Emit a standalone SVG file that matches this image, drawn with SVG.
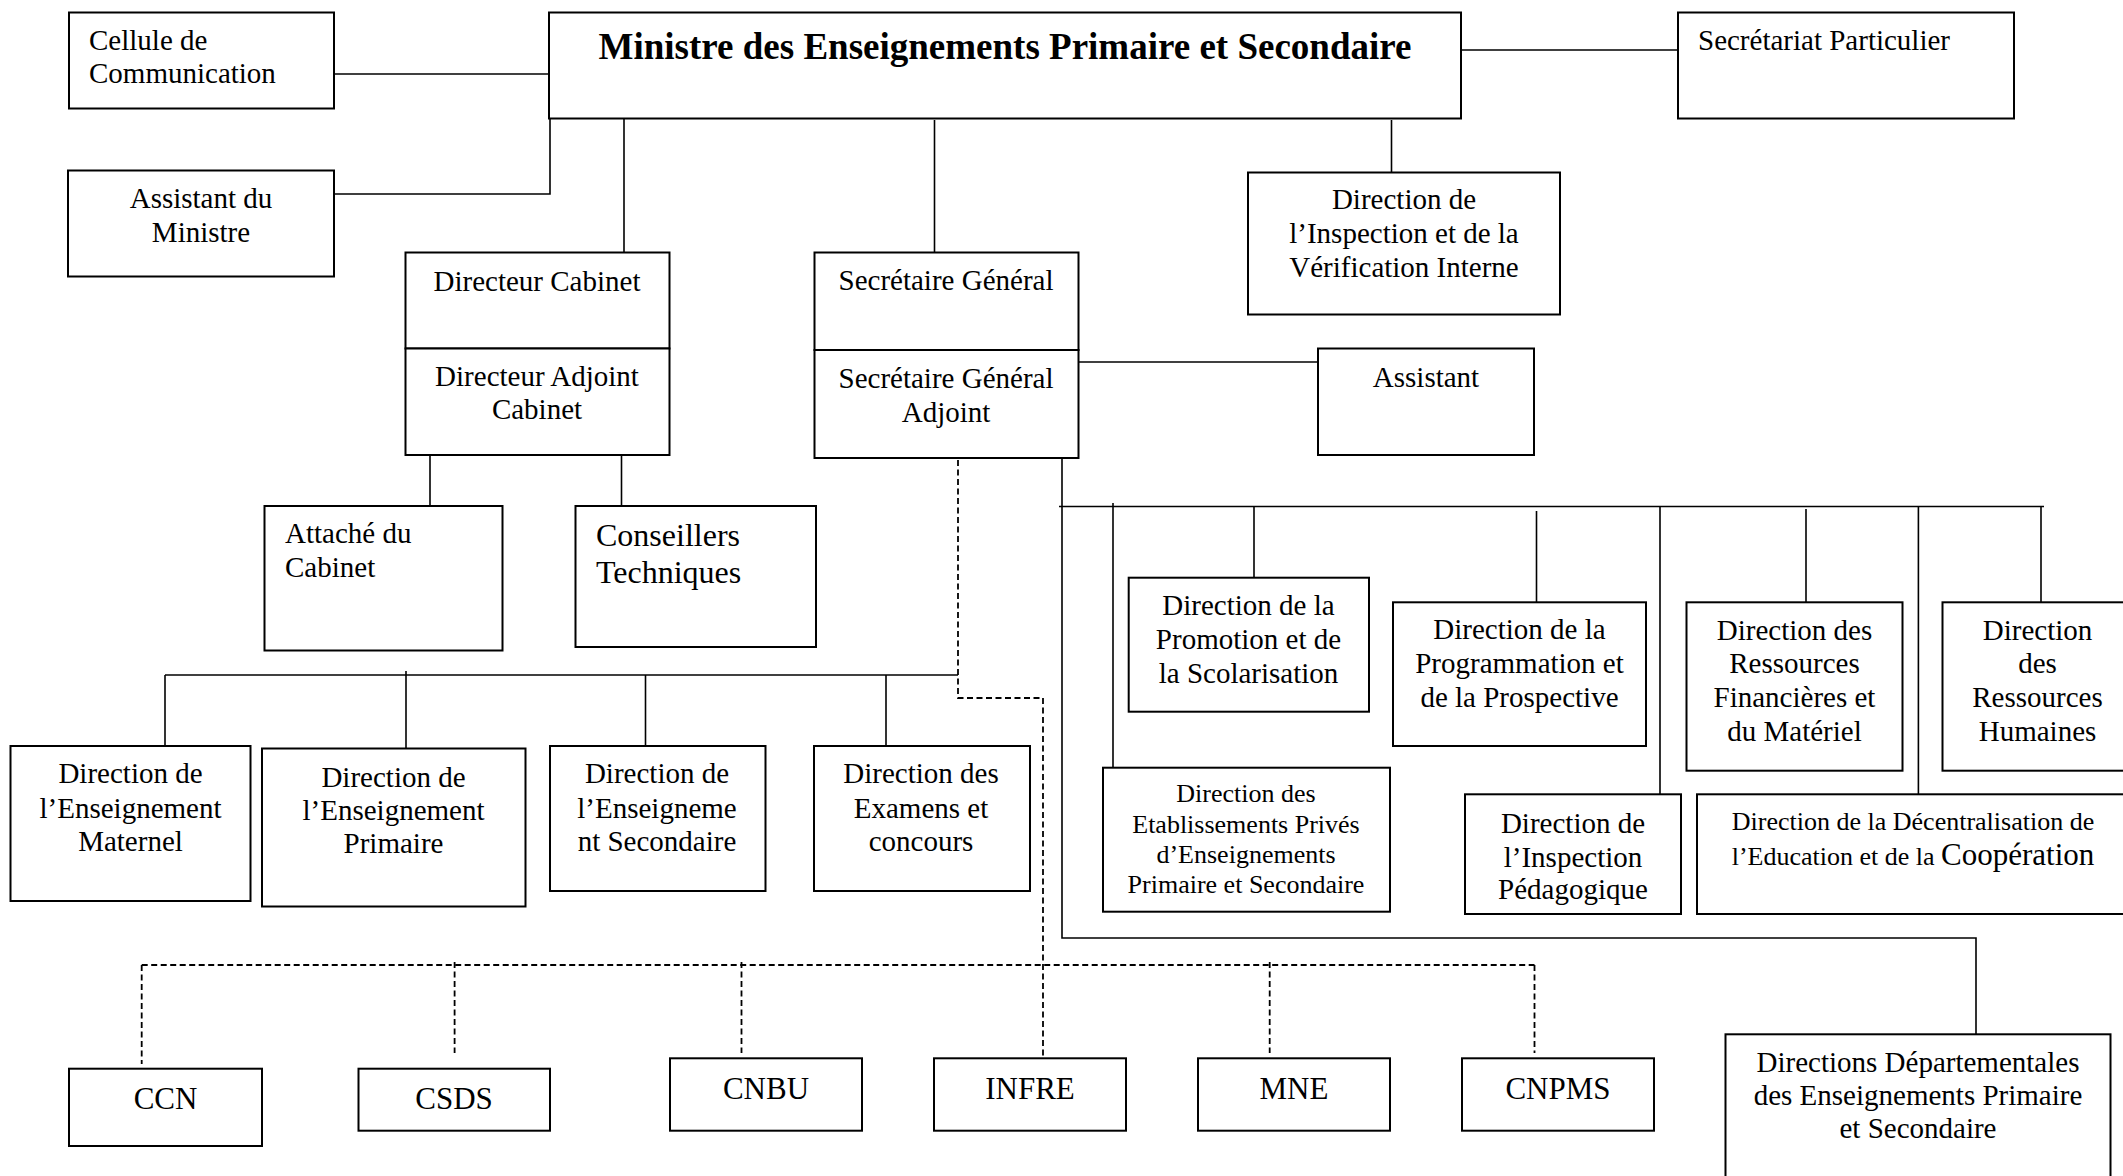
<svg xmlns="http://www.w3.org/2000/svg" width="2123" height="1176" viewBox="0 0 2123 1176">
<style>
  rect { fill: #fff; stroke: #000; stroke-width: 2; }
  text { font-family: "Liberation Serif", "Times New Roman", serif; font-size: 29px; fill: #000; }
  .c { text-anchor: middle; }
  .title { font-size: 37px; font-weight: bold; }
  .big { font-size: 32px; }
  .sm { font-size: 26px; }
  .ab { font-size: 31px; }
  .solid { fill: none; stroke: #000; stroke-width: 1.6; }
  .dash { fill: none; stroke: #000; stroke-width: 1.8; stroke-dasharray: 6 3.5; }
</style>
<rect x="0" y="0" width="2123" height="1176" style="fill:#fff;stroke:none"/>
<g id="connectors">
  <path class="solid" d="M334 74 H549"/>
  <path class="solid" d="M550 118 V194 H334"/>
  <path class="solid" d="M1461 50 H1678"/>
  <path class="solid" d="M624 118 V252"/>
  <path class="solid" d="M934.5 120 V252"/>
  <path class="solid" d="M1391.5 120 V172"/>
  <path class="solid" d="M1078 362 H1318"/>
  <path class="solid" d="M430 455 V506"/>
  <path class="solid" d="M621.5 455 V506"/>
  <path class="solid" d="M165 675 H958"/>
  <path class="solid" d="M165 675 V746"/>
  <path class="solid" d="M406 671 V748"/>
  <path class="solid" d="M645.5 675 V746"/>
  <path class="solid" d="M886 675 V746"/>
  <path class="solid" d="M1062 458 V938 H1976 V1034"/>
  <path class="solid" d="M1059 506.5 H2044"/>
  <path class="solid" d="M1113 503 V768"/>
  <path class="solid" d="M1254 506 V577"/>
  <path class="solid" d="M1536.5 511 V602"/>
  <path class="solid" d="M1660 506 V794"/>
  <path class="solid" d="M1806 509 V602"/>
  <path class="solid" d="M1918.4 506 V794"/>
  <path class="solid" d="M2041 506 V602"/>
  <path class="dash" d="M958 460 V698 H1043 V1056"/>
  <path class="dash" d="M141.7 965 H1534.5"/>
  <path class="dash" d="M141.7 965 V1064"/>
  <path class="dash" d="M454.6 962 V1053"/>
  <path class="dash" d="M741.5 962 V1053"/>
  <path class="dash" d="M1269.7 962 V1053"/>
  <path class="dash" d="M1534.5 965 V1053"/>
</g>
<g id="cellule">
  <rect x="69" y="12.5" width="265" height="96"/>
  <text x="89" y="50">Cellule de</text>
  <text x="89" y="83">Communication</text>
</g>
<g id="ministre">
  <rect x="549" y="12.5" width="912" height="106"/>
  <text class="c title" x="1005" y="59">Ministre des Enseignements Primaire et Secondaire</text>
</g>
<g id="secretariat">
  <rect x="1678" y="12.5" width="336" height="106"/>
  <text x="1698" y="50">Secrétariat Particulier</text>
</g>
<g id="assistant-ministre">
  <rect x="68" y="170.5" width="266" height="106"/>
  <text class="c" x="201" y="208">Assistant du</text>
  <text class="c" x="201" y="242">Ministre</text>
</g>
<g id="divi">
  <rect x="1248" y="172.5" width="312" height="142"/>
  <text class="c" x="1404" y="209">Direction de</text>
  <text class="c" x="1404" y="243">l’Inspection et de la</text>
  <text class="c" x="1404" y="277">Vérification Interne</text>
</g>
<g id="directeur-cabinet">
  <rect x="405.5" y="252.5" width="264" height="96"/>
  <text class="c" x="537" y="291">Directeur Cabinet</text>
</g>
<g id="directeur-adjoint">
  <rect x="405.5" y="348.5" width="264" height="106.5"/>
  <text class="c" x="537" y="386">Directeur Adjoint</text>
  <text class="c" x="537" y="419">Cabinet</text>
</g>
<g id="sg">
  <rect x="814.5" y="252.5" width="264" height="97.5"/>
  <text class="c" x="946" y="290">Secrétaire Général</text>
</g>
<g id="sga">
  <rect x="814.5" y="350" width="264" height="108"/>
  <text class="c" x="946" y="388">Secrétaire Général</text>
  <text class="c" x="946" y="422">Adjoint</text>
</g>
<g id="assistant">
  <rect x="1318" y="348.5" width="216" height="106.5"/>
  <text class="c" x="1426" y="387">Assistant</text>
</g>
<g id="attache">
  <rect x="264.5" y="506" width="238" height="144.5"/>
  <text x="285" y="543">Attaché du</text>
  <text x="285" y="577">Cabinet</text>
</g>
<g id="conseillers">
  <rect x="575.5" y="506" width="240.5" height="141"/>
  <text class="big" x="596" y="546">Conseillers</text>
  <text class="big" x="596" y="583">Techniques</text>
</g>
<g id="dem">
  <rect x="10.5" y="746" width="240" height="155"/>
  <text class="c" x="130.5" y="783">Direction de</text>
  <text class="c" x="130.5" y="818">l’Enseignement</text>
  <text class="c" x="130.5" y="851">Maternel</text>
</g>
<g id="dep">
  <rect x="262" y="748.5" width="263.5" height="158"/>
  <text class="c" x="393.5" y="787">Direction de</text>
  <text class="c" x="393.5" y="820">l’Enseignement</text>
  <text class="c" x="393.5" y="853">Primaire</text>
</g>
<g id="des">
  <rect x="550" y="746" width="215.5" height="145"/>
  <text class="c" x="657" y="783">Direction de</text>
  <text class="c" x="657" y="818">l’Enseigneme</text>
  <text class="c" x="657" y="851">nt Secondaire</text>
</g>
<g id="dec">
  <rect x="814" y="746" width="216" height="145"/>
  <text class="c" x="921" y="783">Direction des</text>
  <text class="c" x="921" y="818">Examens et</text>
  <text class="c" x="921" y="851">concours</text>
</g>
<g id="dps">
  <rect x="1128.7" y="577.7" width="240.3" height="134"/>
  <text class="c" x="1248.5" y="615">Direction de la</text>
  <text class="c" x="1248.5" y="649">Promotion et de</text>
  <text class="c" x="1248.5" y="683">la Scolarisation</text>
</g>
<g id="dpp">
  <rect x="1393" y="602.3" width="253" height="143.7"/>
  <text class="c" x="1519.5" y="639">Direction de la</text>
  <text class="c" x="1519.5" y="673">Programmation et</text>
  <text class="c" x="1519.5" y="707">de la Prospective</text>
</g>
<g id="drfm">
  <rect x="1686.5" y="602.3" width="216" height="168.4"/>
  <text class="c" x="1794.5" y="640">Direction des</text>
  <text class="c" x="1794.5" y="673">Ressources</text>
  <text class="c" x="1794.5" y="707">Financières et</text>
  <text class="c" x="1794.5" y="741">du Matériel</text>
</g>
<g id="drh">
  <rect x="1942.5" y="602.3" width="200" height="168.4"/>
  <text class="c" x="2037.5" y="640">Direction</text>
  <text class="c" x="2037.5" y="673">des</text>
  <text class="c" x="2037.5" y="707">Ressources</text>
  <text class="c" x="2037.5" y="741">Humaines</text>
</g>
<g id="depse">
  <rect x="1103" y="767.7" width="287" height="144"/>
  <text class="c sm" x="1246" y="802">Direction des</text>
  <text class="c sm" x="1246" y="833">Etablissements Privés</text>
  <text class="c sm" x="1246" y="863">d’Enseignements</text>
  <text class="c sm" x="1246" y="893">Primaire et Secondaire</text>
</g>
<g id="dip">
  <rect x="1465" y="794.3" width="216" height="119.7"/>
  <text class="c" x="1573" y="833">Direction de</text>
  <text class="c" x="1573" y="867">l’Inspection</text>
  <text class="c" x="1573" y="899">Pédagogique</text>
</g>
<g id="ddec">
  <rect x="1697" y="794.3" width="450" height="119.7"/>
  <text class="c sm" x="1913" y="830">Direction de la Décentralisation de</text>
  <text class="c sm" x="1913" y="865">l’Education et de la <tspan class="ab">Coopération</tspan></text>
</g>
<g id="ccn">
  <rect x="69" y="1068.7" width="193" height="77.3"/>
  <text class="c ab" x="165.5" y="1109">CCN</text>
</g>
<g id="csds">
  <rect x="358.5" y="1068.7" width="191.5" height="62"/>
  <text class="c ab" x="454" y="1109">CSDS</text>
</g>
<g id="cnbu">
  <rect x="670" y="1058.3" width="192" height="72.4"/>
  <text class="c ab" x="766" y="1099">CNBU</text>
</g>
<g id="infre">
  <rect x="934" y="1058.3" width="192" height="72.4"/>
  <text class="c ab" x="1030" y="1099">INFRE</text>
</g>
<g id="mne">
  <rect x="1198" y="1058.3" width="192" height="72.4"/>
  <text class="c ab" x="1294" y="1099">MNE</text>
</g>
<g id="cnpms">
  <rect x="1462" y="1058.3" width="192" height="72.4"/>
  <text class="c ab" x="1558" y="1099">CNPMS</text>
</g>
<g id="ddepse">
  <rect x="1725.5" y="1034.3" width="385" height="160"/>
  <text class="c" x="1918" y="1072">Directions Départementales</text>
  <text class="c" x="1918" y="1105">des Enseignements Primaire</text>
  <text class="c" x="1918" y="1138">et Secondaire</text>
</g>
</svg>
